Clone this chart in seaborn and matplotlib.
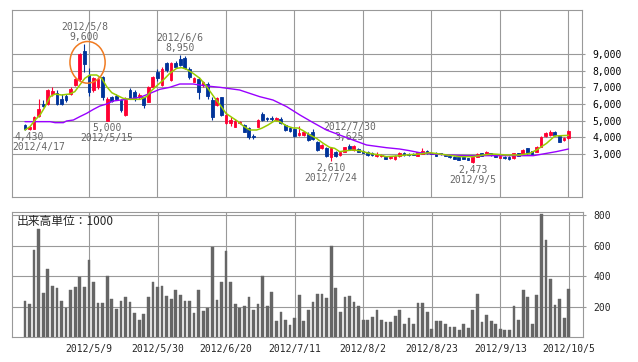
import numpy as np
import pandas as pd
import seaborn as sns
import matplotlib.pyplot as plt
from matplotlib.patches import Ellipse

sns.set_style("white")
plt.rcParams['font.family'] = ['DejaVu Sans Mono', 'Noto Sans CJK JP']

# trading days (Tokyo) 2012/4/16 - 2012/10/5
holidays = ["2012-04-30", "2012-05-03", "2012-05-04", "2012-07-16", "2012-09-17"]
dates = pd.bdate_range("2012-04-16", "2012-10-05")
dates = dates[~dates.isin(pd.to_datetime(holidays))]

opens = np.array([
    4740, 4500, 4500, 5300, 6000, 6000, 6580, 6640, 6320, 6500,
    6600, 7150, 7500, 9200, 7750, 6860, 7000, 7600, 5000, 6400,
    6500, 6240, 5340, 6840, 6740, 6400, 6400, 6140, 7040, 7940,
    7140, 8440, 7440, 8480, 8680, 8780, 8100, 7340, 7500, 7140,
    7200, 6240, 5940, 6400, 4840, 4840, 4640, 4880, 4740, 4540,
    4080, 4640, 5380, 5180, 5150, 5040, 5100, 4740, 4540, 4480,
    4140, 4140, 4200, 4340, 3740, 3340, 3340, 2840, 3140, 2940,
    3140, 3500, 3240, 3300, 3200, 3140, 3040, 2900, 2880, 2820,
    2740, 2680, 2880, 3080, 3000, 3020, 2900, 3000, 3200, 3080,
    3040, 3040, 2960, 2900, 2840, 2800, 2800, 2740, 2540, 2840,
    3040, 2980, 3040, 2940, 2780, 2840, 2840, 2740, 3040, 2980,
    3340, 3180, 3140, 3440, 4100, 4140, 4340, 4100, 3840, 3940])
highs = np.array([
    4800, 4700, 5300, 6300, 6240, 6900, 7040, 6840, 6600, 6580,
    7000, 7560, 9050, 9600, 8140, 7640, 7640, 7700, 6400, 6500,
    6600, 6300, 6400, 6940, 6840, 6640, 6440, 7100, 7700, 8080,
    8200, 8500, 8500, 8600, 8950, 8900, 8200, 7600, 7600, 7400,
    7300, 6400, 6400, 6440, 5500, 5200, 5100, 5000, 4800, 4600,
    4200, 5100, 5500, 5250, 5300, 5200, 5200, 4800, 4600, 4550,
    4700, 4400, 4300, 4500, 3800, 3600, 3400, 3400, 3200, 3200,
    3450, 3625, 3550, 3350, 3250, 3200, 3100, 3100, 3000, 2880,
    2900, 2950, 3140, 3100, 3050, 3060, 3150, 3340, 3250, 3100,
    3100, 3080, 3000, 2920, 2880, 2820, 2850, 2780, 2840, 3050,
    3080, 3200, 3080, 2980, 2940, 2880, 2860, 3080, 3080, 3300,
    3380, 3200, 3500, 4100, 4340, 4440, 4400, 4150, 4000, 4450])
lows = np.array([
    4460, 4430, 4480, 5250, 5840, 5950, 6500, 5940, 5940, 6150,
    6550, 7100, 7400, 7940, 6480, 6700, 6900, 6240, 5000, 6100,
    6250, 5540, 5300, 6300, 6200, 6300, 5740, 6100, 7000, 7400,
    7100, 7900, 7400, 8200, 8300, 8100, 7500, 7300, 6300, 7040,
    6300, 5040, 5900, 5300, 4800, 4700, 4600, 4800, 4300, 3900,
    3900, 4600, 5000, 5000, 5000, 5000, 4800, 4400, 4300, 4000,
    4100, 4100, 3800, 3840, 3200, 3300, 2850, 2610, 2800, 2900,
    3100, 3250, 3200, 3100, 3050, 2900, 2900, 2850, 2800, 2680,
    2700, 2650, 2850, 2900, 2900, 2940, 2880, 2980, 3000, 3000,
    2880, 2950, 2860, 2780, 2680, 2640, 2680, 2620, 2473, 2820,
    2880, 2950, 2900, 2800, 2760, 2700, 2660, 2720, 2880, 2960,
    3000, 2950, 3100, 3400, 4040, 4100, 4100, 3700, 3800, 3900])
closes = np.array([
    4500, 4650, 5200, 5700, 5880, 6840, 6800, 6000, 5980, 6250,
    6900, 7500, 9000, 8400, 6700, 7560, 7500, 6450, 6300, 6200,
    6300, 5640, 6240, 6340, 6340, 6540, 5940, 7040, 7600, 7540,
    8080, 8040, 8480, 8240, 8340, 8140, 7640, 7540, 6700, 7340,
    6480, 5240, 6340, 5340, 5340, 5040, 4980, 4900, 4340, 4040,
    4040, 5040, 5040, 5080, 5100, 5140, 4840, 4440, 4400, 4080,
    4280, 4340, 3840, 3900, 3240, 3540, 2880, 3340, 2880, 3140,
    3400, 3300, 3500, 3140, 3080, 2960, 2940, 3000, 2960, 2720,
    2840, 2880, 3040, 2940, 2920, 2960, 3100, 3200, 3040, 3020,
    2900, 2980, 2900, 2800, 2700, 2660, 2700, 2640, 2800, 3000,
    2900, 3140, 2940, 2820, 2880, 2740, 2700, 3040, 2900, 3240,
    3040, 2980, 3440, 4040, 4280, 4340, 4140, 3740, 3940, 4400])
volume = np.array([
    236, 216, 570, 708, 288, 446, 334, 321, 236, 190,
    308, 328, 393, 328, 505, 361, 223, 223, 400, 249,
    184, 236, 262, 230, 157, 111, 151, 262, 361, 328,
    334, 269, 249, 308, 275, 236, 236, 157, 308, 170,
    190, 590, 243, 361, 564, 361, 216, 190, 203, 262,
    177, 216, 400, 203, 295, 105, 164, 111, 79, 125,
    275, 105, 177, 230, 282, 282, 256, 597, 321, 164,
    262, 269, 230, 203, 111, 111, 131, 177, 111, 98,
    98, 138, 177, 85, 125, 85, 223, 223, 164, 52,
    105, 105, 85, 66, 66, 46, 85, 59, 177, 282,
    98, 144, 105, 85, 52, 46, 46, 203, 111, 308,
    262, 85, 275, 807, 636, 380, 210, 249, 125, 315])

# moving averages (day index, price)
ma_short_x = [0, 1.1, 2.2, 3.3, 4.4, 5.5, 6.6, 8, 9.8, 10.9, 12, 13.1, 14.2, 15.7,
              16.8, 17.9, 19, 20, 21.5, 23, 25.2, 26.6, 27.7, 28.8, 30.3, 31.7, 33.2,
              34.3, 35.4, 36.8, 38.3, 39.8, 41.6, 43, 44, 45.6, 46.7, 47.8, 49.2, 50.7,
              51.8, 53.2, 54.7, 55.8, 57.3, 58.7, 59.8, 60.9, 62.4, 63.8, 65.3, 66.7,
              67.8, 68.9, 70.4, 71.8, 73.3, 74.8, 76.2, 77.7, 79.1, 81.3, 83.5, 86.4,
              88.6, 90.8, 93, 95.2, 98.1, 100.3, 102.5, 105.4, 108.3, 110.5, 112,
              114.2, 116, 119]
ma_short_y = [4440, 4640, 5040, 5340, 5840, 6440, 6600, 6540, 6600, 6740, 7140, 7540,
              7740, 7740, 7540, 7040, 6680, 6540, 6340, 6280, 6280, 6440, 6800, 7080,
              7440, 7840, 8140, 8180, 8080, 7840, 7540, 7040, 6340, 5840, 5440, 5140,
              4940, 4680, 4440, 4440, 4540, 4740, 5000, 4940, 4680, 4560, 4560, 4400,
              4140, 3940, 3640, 3400, 3340, 3140, 3200, 3240, 3200, 3080, 3000, 2940,
              2840, 2880, 2940, 3000, 3080, 3000, 2920, 2840, 2840, 2940, 3000, 2940,
              2940, 3040, 3240, 3640, 4080, 4120]
ma_long_x = [0, 5.5, 6.6, 8.4, 9.1, 10.6, 12, 13.5, 15, 16.4, 17.9, 19.3, 22.2, 25.2,
             27.4, 29.5, 31.7, 33.9, 36.8, 39.8, 42.7, 47, 51.4, 54.3, 57.3, 60.2, 63.1,
             66, 68.9, 71.8, 74.8, 79.1, 82, 84.2, 86.4, 89.3, 93, 96.7, 104, 111.3,
             113.4, 116.3, 119]
ma_long_y = [4940, 4940, 4880, 4880, 4980, 5040, 5240, 5440, 5680, 5880, 6000, 6180,
             6280, 6400, 6640, 6880, 7000, 7200, 7200, 7080, 7000, 6840, 6440, 6240,
             5840, 5340, 4880, 4440, 4140, 3840, 3540, 3380, 3300, 3200, 3080, 3000,
             2940, 2900, 2900, 2900, 3000, 3140, 3300]

tick_dates = ["2012-05-09", "2012-05-30", "2012-06-20", "2012-07-11",
              "2012-08-02", "2012-08-23", "2012-09-13", "2012-10-05"]
price_ticks = [3000, 4000, 5000, 6000, 7000, 8000, 9000]
volume_ticks = [200, 400, 600, 800]

# marked highs / lows
mark_dates = ["2012-04-17", "2012-05-08", "2012-05-15", "2012-06-06",
              "2012-07-24", "2012-07-30", "2012-09-05"]
mark_kind = ["low", "high", "low", "high", "low", "high", "low"]

RED = "#ff0033"
BLUE = "#003399"
GRID = "#999999"
GREEN = "#99cc00"
PURPLE = "#9900ff"
TXT = "#666666"
VOL = "#666666"

x = np.arange(len(opens))
tick_idx = [dates.get_loc(pd.Timestamp(d)) for d in tick_dates]
tick_lbl = [f"{pd.Timestamp(d).year}/{pd.Timestamp(d).month}/{pd.Timestamp(d).day}" for d in tick_dates]

fig = plt.figure(figsize=(6.38, 3.62), dpi=100)
ax = fig.add_axes([12 / 638, 1 - 197 / 362, 570 / 638, 187 / 362])
axv = fig.add_axes([12 / 638, 1 - 337 / 362, 571 / 638, 125 / 362])

# candles
col = np.where(closes >= opens, RED, BLUE)
ax.vlines(x, lows, highs, colors=col, lw=0.8, zorder=3)
ax.bar(x, np.abs(closes - opens), bottom=np.minimum(opens, closes), width=0.6,
       color=col, edgecolor=col, lw=0.6, zorder=3)

sns.lineplot(x=ma_long_x, y=ma_long_y, ax=ax, color=PURPLE, lw=1.0, zorder=4)
sns.lineplot(x=ma_short_x, y=ma_short_y, ax=ax, color=GREEN, lw=1.1, zorder=5)

ax.set_xlim(-2.84, 121.96)
ax.set_ylim(420, 11640)
ax.set_xlabel("")
ax.set_ylabel("")
ax.set_xticks(tick_idx)
ax.set_xticklabels([])
ax.set_yticks(price_ticks)
ax.set_yticklabels([f"{v:,}" for v in price_ticks])
ax.yaxis.tick_right()
ax.tick_params(axis="x", length=0)
ax.tick_params(axis="y", length=2.5, color=GRID, width=0.8, pad=5, labelsize=7, labelcolor="black")
ax.grid(True, color=GRID, lw=0.8)
ax.set_axisbelow(True)
for s in ax.spines.values():
    s.set_color(GRID)
    s.set_linewidth(0.8)

# high / low labels
for d, kind in zip(mark_dates, mark_kind):
    i = dates.get_loc(pd.Timestamp(d))
    val = highs[i] if kind == "high" else lows[i]
    sgn = 1 if kind == "high" else -1
    dx = 9 if i < 3 else 0
    ax.annotate(f"{val:,}", (i, val), xytext=(0, sgn * 7), textcoords="offset pixels",
                ha="center", va="center", fontsize=7, color=TXT)
    ax.annotate(f"{d[:4]}/{int(d[5:7])}/{int(d[8:])}", (i, val), xytext=(dx, sgn * 17),
                textcoords="offset pixels", ha="center", va="center", fontsize=7, color=TXT)

# circle around the peak
top = int(np.argmax(highs))
ax.add_patch(Ellipse((top + 0.7, highs[top] - 1100), 7.7, 2500, fill=False,
                     ec="#f07a20", lw=1.1, zorder=6))

# volume
sns.barplot(x=x, y=volume, ax=axv, color=VOL, saturation=1, width=0.6,
            native_scale=True, edgecolor=VOL, linewidth=0.3, zorder=3)
axv.set_xlim(-2.84, 122.1)
axv.set_ylim(0, 820)
axv.set_xlabel("")
axv.set_ylabel("")
axv.set_xticks(tick_idx)
axv.set_xticklabels(tick_lbl)
axv.set_yticks(volume_ticks)
axv.set_yticklabels([str(v) for v in volume_ticks])
axv.yaxis.tick_right()
axv.tick_params(axis="x", length=2, color=GRID, pad=3, labelsize=7)
axv.tick_params(axis="y", length=2.5, color=GRID, width=0.8, pad=5, labelsize=7)
axv.grid(True, color=GRID, lw=0.8)
axv.set_axisbelow(True)
for s in axv.spines.values():
    s.set_color(GRID)
    s.set_linewidth(0.8)
axv.text(0.009, 0.92, "出来高単位：1000", transform=axv.transAxes, fontsize=8.5,
         family=["Noto Sans CJK JP", "DejaVu Sans"], va="center", ha="left")

fig.savefig("out.png", dpi=100)
